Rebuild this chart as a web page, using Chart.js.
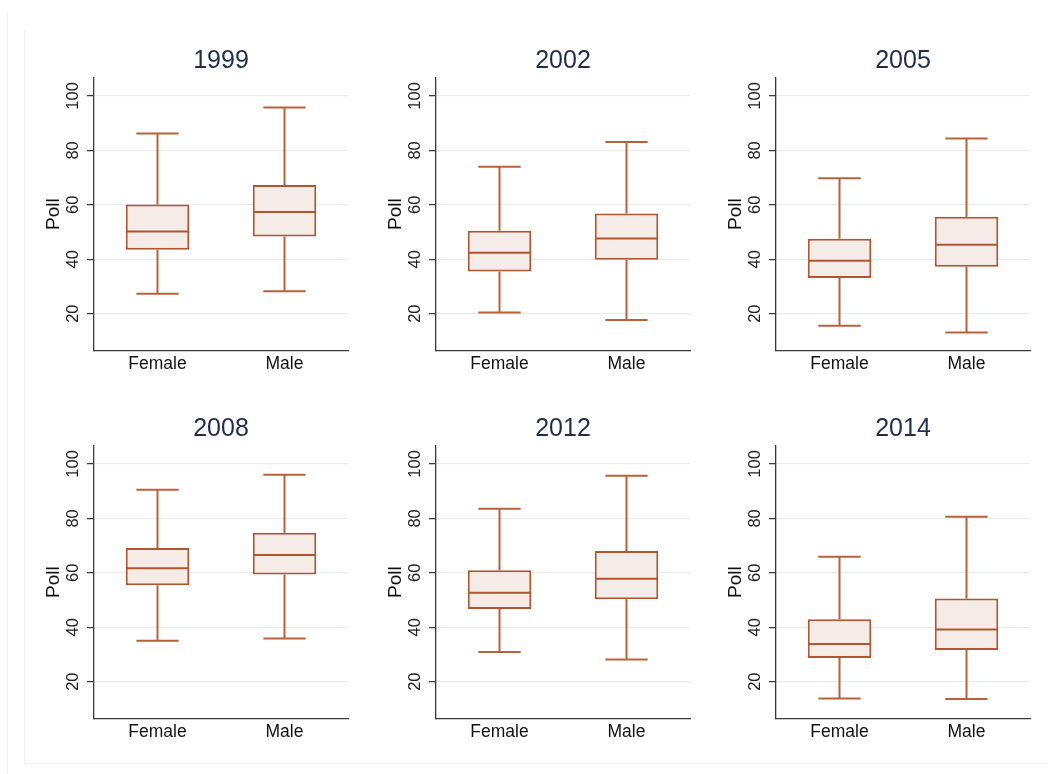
<!DOCTYPE html>
<html>
<head>
<meta charset="utf-8">
<script src="https://cdn.jsdelivr.net/npm/chart.js@4.4.1/dist/chart.umd.min.js"></script>
<style>
  body { margin: 0; background: #fff; width: 1052px; height: 774px; position: relative; overflow: hidden; }
  .frame-outer { position: absolute; left: 7px; top: 12px; width: 1045px; height: 762px; border-left: 1px solid #f1f1f1; }
  .frame-inner { position: absolute; left: 24px; top: 29px; width: 1023px; height: 734px; border-left: 1px solid #f1f1f1; border-bottom: 1px solid #f1f1f1; }
  canvas { position: absolute; }
</style>
</head>
<body>
<div class="frame-outer"></div>
<div class="frame-inner"></div>
<canvas id="p0" width="320" height="348" style="left:34px;top:38px"></canvas>
<canvas id="p1" width="320" height="348" style="left:376px;top:38px"></canvas>
<canvas id="p2" width="320" height="348" style="left:716px;top:38px"></canvas>
<canvas id="p3" width="320" height="348" style="left:34px;top:406px"></canvas>
<canvas id="p4" width="320" height="348" style="left:376px;top:406px"></canvas>
<canvas id="p5" width="320" height="348" style="left:716px;top:406px"></canvas>
<script>
  // one panel per survey year, Female / Male in each
  const years = ['1999', '2002', '2005', '2008', '2012', '2014'];
  const groups = ['Female', 'Male'];
  const yTicks = [20, 40, 60, 80, 100];

  // box plot values per year: [Female, Male]
  const lowerWhisker = [[27.3, 28.2], [20.4, 17.7], [15.6, 13.1], [35.0, 35.9], [30.9, 28.1], [13.8, 13.6]];
  const q1 = [[43.5, 48.4], [35.5, 39.8], [33.1, 37.2], [55.4, 59.4], [46.7, 50.3], [28.7, 31.6]];
  const median = [[50.2, 57.4], [42.4, 47.6], [39.4, 45.3], [61.7, 66.5], [52.7, 57.8], [33.8, 39.2]];
  const q3 = [[60.1, 67.3], [50.5, 56.8], [47.5, 55.6], [69.1, 74.7], [60.9, 68.0], [42.9, 50.6]];
  const upperWhisker = [[86.2, 95.8], [74.0, 83.1], [69.8, 84.4], [90.5, 96.0], [83.5, 95.7], [65.9, 80.6]];

  const boxColor = '#b0552f';
  const whiskerColor = '#b8623c';
  const boxFill = '#f5ece8';
  const fontFamily = '"Liberation Sans", Arial, Helvetica, sans-serif';

  // whiskers, caps and median line, drawn with the chart's own scales
  const boxPlotLines = {
    id: 'boxPlotLines',
    afterDatasetsDraw(chart, args, opts) {
      const p = opts.panel;
      const meta = chart.getDatasetMeta(0);
      const y = chart.scales.y;
      const ctx = chart.ctx;
      ctx.save();
      ctx.lineWidth = 2;
      meta.data.forEach((bar, i) => {
        const x = bar.x;
        const half = bar.width / 2;
        const cap = bar.width / 3;
        const yHi = y.getPixelForValue(upperWhisker[p][i]);
        const yLo = y.getPixelForValue(lowerWhisker[p][i]);
        const yQ3 = y.getPixelForValue(q3[p][i]);
        const yQ1 = y.getPixelForValue(q1[p][i]);
        const yMed = y.getPixelForValue(median[p][i]);
        ctx.strokeStyle = whiskerColor;
        ctx.beginPath();
        ctx.moveTo(x, yQ3); ctx.lineTo(x, yHi);
        ctx.moveTo(x - cap, yHi); ctx.lineTo(x + cap, yHi);
        ctx.moveTo(x, yQ1); ctx.lineTo(x, yLo);
        ctx.moveTo(x - cap, yLo); ctx.lineTo(x + cap, yLo);
        ctx.stroke();
        ctx.strokeStyle = boxColor;
        ctx.beginPath();
        ctx.moveTo(x - half + 1, yMed); ctx.lineTo(x + half - 1, yMed);
        ctx.stroke();
      });
      ctx.restore();
    }
  };

  function makePanel(p) {
    const ctx = document.getElementById('p' + p).getContext('2d');
    return new Chart(ctx, {
      type: 'bar',
      data: {
        labels: groups,
        datasets: [{
          data: groups.map((g, i) => [q1[p][i], q3[p][i]]),
          backgroundColor: boxFill,
          borderColor: boxColor,
          borderWidth: 2,
          borderSkipped: false,
          barPercentage: 0.5,
          categoryPercentage: 1
        }]
      },
      options: {
        responsive: false,
        animation: false,
        layout: { padding: { left: 0, right: 6, top: 0, bottom: 0 } },
        plugins: {
          legend: { display: false },
          tooltip: { enabled: false },
          title: {
            display: true,
            text: years[p],
            fullSize: false,
            color: '#1e2d50',
            font: { family: fontFamily, size: 25, weight: 'normal' },
            padding: { top: 7.7, bottom: 2.3 }
          },
          boxPlotLines: { panel: p }
        },
        scales: {
          x: {
            grid: { display: false },
            border: { display: true, color: '#3a3a3a', width: 1.3 },
            ticks: {
              color: '#111',
              padding: -4.5,
              font: { family: fontFamily, size: 17.5 }
            },
            afterFit: function(scale) { scale.height = 35.6; }
          },
          y: {
            min: 6.5,
            max: 106.6,
            afterBuildTicks: function(scale) {
              scale.ticks = yTicks.map(v => ({ value: v }));
            },
            grid: {
              color: '#e6eef2',
              lineWidth: 1.3,
              tickColor: '#333',
              tickLength: 7,
              tickWidth: 1.2
            },
            border: { display: true, color: '#3a3a3a', width: 1.3 },
            ticks: {
              color: '#222',
              minRotation: 90,
              maxRotation: 90,
              crossAlign: 'center',
              padding: -0.5,
              font: { family: fontFamily, size: 16.5 }
            },
            title: {
              display: true,
              text: 'Poll',
              color: '#111',
              padding: { top: 8.6, bottom: 0 },
              font: { family: fontFamily, size: 19 }
            },
            afterFit: function(scale) { scale.width = 60; }
          }
        }
      },
      plugins: [boxPlotLines]
    });
  }

  years.forEach((yr, p) => makePanel(p));
</script>
</body>
</html>
